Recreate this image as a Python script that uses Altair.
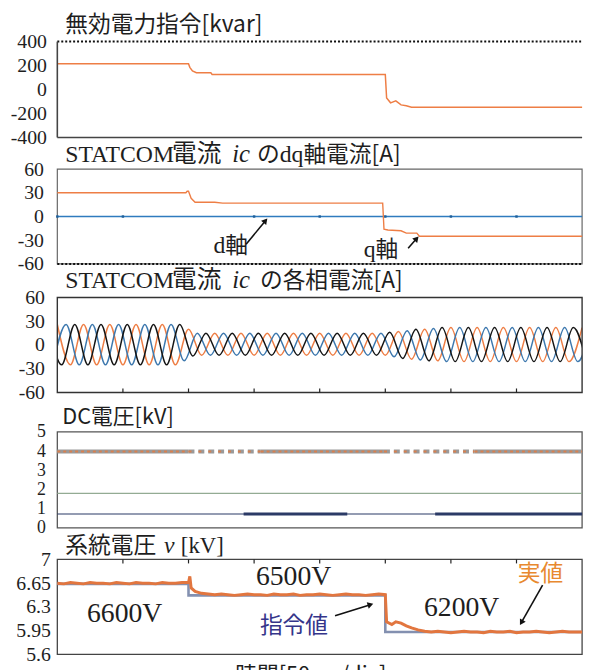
import altair as alt
import pandas as pd

# ---------------- data ----------------
# Panel 1: reactive power command [kvar]
r_t = [0, 100, 101, 103, 106, 117, 118, 250, 251, 254, 258, 262, 266, 270, 400]
r_v = [215, 215, 185, 155, 140, 140, 125, 125, -70, -111, -95, -128, -136, -148, -148]

# Panel 2: dq currents [A]
q_t = [0, 98, 99, 100, 102, 105, 120, 126, 248, 249, 252, 262, 266, 274, 276, 400]
q_v = [30, 30, 32, 32, 23, 18, 18, 17, 17, -16, -17, -18, -21, -21, -25, -25]
d_t = [0, 400]
d_v = [0, 0]
d_mark_t = [0, 50, 150, 200, 250, 300, 350]

# Panel 3: phase currents, extreme values per half cycle [A]
pa_t = [0, 10, 20, 30, 40, 50, 60, 70, 80, 90, 100, 110, 120, 130, 140, 150, 160, 170, 180, 190,
        200, 210, 220, 230, 240, 250, 260, 270, 280, 290, 300, 310, 320, 330, 340, 350, 360, 370,
        380, 390, 400]
pa_v = [26, -25, 26, -25, 26, -25, 26, -25, 26, -25,
        20, -13, 15, -13, 15, -13, 15, -13, 15, -13, 15, -13, 15, -13, 15, -13,
        17, -18, 20, -20, 22, -21, 22, -21, 22, -21, 22, -21, 22, -21, 22]
pb_t = [-3.3, 6.7, 16.7, 26.7, 36.7, 46.7, 56.7, 66.7, 76.7, 86.7, 96.7, 106.7, 116.7, 126.7,
        136.7, 146.7, 156.7, 166.7, 176.7, 186.7, 196.7, 206.7, 216.7, 226.7, 236.7, 246.7, 256.7,
        266.7, 276.7, 286.7, 296.7, 306.7, 316.7, 326.7, 336.7, 346.7, 356.7, 366.7, 376.7, 386.7,
        396.7, 406.7]
pb_v = [-25, 26, -25, 26, -25, 26, -25, 26, -25, 26,
        -20,
        15, -13, 15, -13, 15, -13, 15, -13, 15, -13, 15, -13, 15, -13, 15,
        -15, 18, -19, 21, -21, 22, -21, 22, -21, 22, -21, 22, -21, 22, -21, 22]
pc_t = [-6.7, 3.3, 13.3, 23.3, 33.3, 43.3, 53.3, 63.3, 73.3, 83.3, 93.3, 103.3, 113.3, 123.3,
        133.3, 143.3, 153.3, 163.3, 173.3, 183.3, 193.3, 203.3, 213.3, 223.3, 233.3, 243.3, 253.3,
        263.3, 273.3, 283.3, 293.3, 303.3, 313.3, 323.3, 333.3, 343.3, 353.3, 363.3, 373.3, 383.3,
        393.3, 403.3]
pc_v = [26, -25, 26, -25, 26, -25, 26, -25, 26, -25, 26,
        -14,
        15, -13, 15, -13, 15, -13, 15, -13, 15, -13, 15, -13, 15, -13,
        16, -17, 20, -20, 22, -21, 22, -21, 22, -21, 22, -21, 22, -21, 22, -21]

# Panel 4: DC voltages [kV]
dc_solid_start = [0, 155, 318]
dc_solid_end = [100, 249, 400]
dc_dash_start = [100, 249]
dc_dash_end = [155, 318]
dc_level = 3.98
green_level = 1.8
navy_thick_start = [142, 288]
navy_thick_end = [221, 400]
navy_level = 0.72

# Panel 5: system voltage [kV]
cmd_t = [0, 100, 100, 250, 250, 400]
cmd_v = [6.64, 6.64, 6.47, 6.47, 5.93, 5.93]
act_t = [0, 5, 10, 15, 20, 25, 30, 35, 40, 45, 50, 55, 60, 65, 70, 75, 80, 85, 90, 95,
         100, 101, 102, 105, 110, 115,
         120, 125, 130, 135, 140, 145, 150, 155, 160, 165, 170, 175, 180, 185, 190, 195, 200,
         205, 210, 215, 220, 225, 230, 235, 240, 245,
         250, 251, 255, 258, 262, 266, 270, 275, 280,
         285, 290, 295, 300, 305, 310, 315, 320, 325, 330, 335, 340, 345, 350, 355, 360, 365,
         370, 375, 380, 385, 390, 395, 400]
act_v = [6.65, 6.64, 6.66, 6.65, 6.64, 6.66, 6.65, 6.65, 6.64, 6.66, 6.65, 6.64, 6.66, 6.65,
         6.65, 6.64, 6.66, 6.65, 6.65, 6.66,
         6.66, 6.75, 6.58, 6.53, 6.50, 6.49,
         6.48, 6.49, 6.48, 6.47, 6.48, 6.49, 6.48, 6.48, 6.47, 6.49, 6.48, 6.48, 6.49, 6.47,
         6.48, 6.48, 6.49, 6.48, 6.47, 6.48, 6.49, 6.48, 6.48, 6.47, 6.48, 6.49,
         6.48, 6.08, 6.04, 6.08, 6.06, 6.02, 5.99, 5.96, 5.94,
         5.93, 5.94, 5.93, 5.92, 5.93, 5.94, 5.93, 5.93, 5.92, 5.94, 5.93, 5.93, 5.94, 5.92,
         5.93, 5.93, 5.94, 5.93, 5.92, 5.93, 5.94, 5.93, 5.93, 5.93]

tick_times = [50, 100, 150, 200, 250, 300, 350]

# ---------------- style ----------------
ORANGE = "#EE7E45"
BLUE = "#2F7BBE"
SERIF = "Liberation Serif"
SANS_CJK = "Noto Sans CJK JP"
W = 531
ONE = pd.DataFrame({"a": [0]})


def X(field="t"):
    return alt.X(f"{field}:Q", scale=alt.Scale(domain=[0, 400], nice=False, zero=False), axis=None)


def make_Y(dom, plot_h, ticks, pad, size=20):
    def Y(field="v"):
        sc = alt.Scale(domain=dom, range=[plot_h, 0], nice=False, zero=False)
        return alt.Y(f"{field}:Q", scale=sc, axis=alt.Axis(
            values=ticks, labelExpr="'' + datum.value", domain=False, ticks=False, grid=False,
            labelFont=SERIF, labelFontSize=size, labelColor="#1e1e1e", labelPadding=pad,
            labelOverlap=False, labelFlush=False, title=None))
    return Y


def text(s, x, y, font=SANS_CJK, size=22, color="#1e1e1e", style="normal"):
    return alt.Chart(ONE).mark_text(text=s, font=font, fontSize=size, color=color,
                                    fontStyle=style, align="left", baseline="alphabetic").encode(
        x=alt.value(x), y=alt.value(y))


def dtext(s, t, v, Y, font=SANS_CJK, size=22, color="#1e1e1e"):
    df = pd.DataFrame({"t": [t], "v": [v]})
    return alt.Chart(df).mark_text(text=s, font=font, fontSize=size, color=color,
                                   align="left", baseline="alphabetic").encode(x=X(), y=Y())


def arrow(t1, v1, t2, v2, ang, Y):
    df = pd.DataFrame({"t": [t1, t2], "v": [v1, v2]})
    line = alt.Chart(df).mark_line(color="#111", strokeWidth=1.6).encode(x=X(), y=Y())
    dh = pd.DataFrame({"t": [t2], "v": [v2]})
    head = alt.Chart(dh).mark_point(shape="triangle", filled=True, size=45, color="#111",
                                    opacity=1, angle=ang).encode(x=X(), y=Y())
    return [line, head]


def frame(dom, Y, color="#555", width=1.2):
    df = pd.DataFrame({"t": [0], "t2": [400], "v": [dom[1]], "v2": [dom[0]]})
    return alt.Chart(df).mark_rect(filled=False, stroke=color, strokeWidth=width).encode(
        x=X(), x2="t2:Q", y=Y(), y2="v2:Q")


def hline(val, Y, color, width=1.5, dash=None):
    df = pd.DataFrame({"t": [0, 400], "v": [val, val]})
    kw = dict(color=color, strokeWidth=width)
    if dash is not None:
        kw["strokeDash"] = dash
    return alt.Chart(df).mark_line(**kw).encode(x=X(), y=Y())


def segs(starts, ends, level):
    rows = []
    for i, (s, e) in enumerate(zip(starts, ends)):
        rows.append({"seg": i, "t": s, "v": level})
        rows.append({"seg": i, "t": e, "v": level})
    return pd.DataFrame(rows)


def cjk_title(pieces, y):
    out = []
    for s, x, font, size, style in pieces:
        out.append(text(s, x, y, font, size, style=style))
    return out


# ---------------- panel 1 ----------------
D1, H1 = [-400, 400], 97
Y1 = make_Y(D1, H1, [400, 200, 0, -200, -400], 11)
df1 = pd.DataFrame({"t": r_t, "v": r_v})
dleft = pd.DataFrame({"t": [0, 0], "v": [-400, 400]})
p1_layers = [
    alt.Chart(df1).mark_line(color=ORANGE, strokeWidth=1.5).encode(x=X(), y=Y1()),
    hline(-400, Y1, "#444", 1.6),
    hline(400, Y1, "#111", 2, [2, 2]),
    alt.Chart(dleft).mark_line(color="#444", strokeWidth=1.6).encode(x=X(), y=Y1()),
    text("無効電力指令[kvar]", 8, -10, SANS_CJK, 23),
]
p1 = alt.layer(*p1_layers).properties(width=W, height=H1)

# ---------------- panel 2 ----------------
D2, H2p, H2c = [-60, 60], 96, 98
Y2 = make_Y(D2, H2p, [60, 30, 0, -30, -60], 14)
dfq = pd.DataFrame({"t": q_t, "v": q_v})
dfd = pd.DataFrame({"t": d_t, "v": d_v})
dfdm = pd.DataFrame({"t": d_mark_t, "v": [0] * len(d_mark_t)})
p2_layers = [
    frame(D2, Y2, "#666", 1.2),
    alt.Chart(dfd).mark_line(color=BLUE, strokeWidth=1.6).encode(x=X(), y=Y2()),
    alt.Chart(dfdm).mark_square(color="#1F5F99", size=6, opacity=1).encode(x=X(), y=Y2()),
    alt.Chart(dfq).mark_line(color=ORANGE, strokeWidth=1.4).encode(x=X(), y=Y2()),
    hline(-60, Y2, "#111", 2, [2, 2]),
    dtext("d", 119, -46.25, Y2, SERIF, 24),
    dtext("軸", 128, -46.25, Y2, SANS_CJK, 23),
    dtext("q", 233.5, -51.25, Y2, SERIF, 24),
    dtext("軸", 242.5, -51.25, Y2, SANS_CJK, 23),
] + cjk_title([
    ("STATCOM", 8, SERIF, 24, "normal"),
    ("電流", 116, SANS_CJK, 25, "normal"),
    ("ic", 177, SERIF, 25, "italic"),
    ("の", 202, SANS_CJK, 23, "normal"),
    ("dq", 225, SERIF, 24, "normal"),
    ("軸電流[A]", 249, SANS_CJK, 23, "normal"),
], -7) + arrow(143.9, -35, 158.2, -6.25, 40, Y2) + arrow(267.4, -40, 273.4, -28.75, 42, Y2)
p2 = alt.layer(*p2_layers).properties(width=W, height=H2c)

# ---------------- panel 3 ----------------
D3, H3p, H3c = [-60, 60], 96, 104
Y3 = make_Y(D3, H3p, [60, 30, 0, -30, -60], 13)
rows = []
for name, ts, vs in (("a", pa_t, pa_v), ("b", pb_t, pb_v), ("c", pc_t, pc_v)):
    for t, v in zip(ts, vs):
        rows.append({"phase": name, "t": t, "v": v})
df3 = pd.DataFrame(rows)
dft = pd.DataFrame({"t": tick_times})
p3_layers = [
    alt.Chart(df3).mark_line(strokeWidth=1.5, interpolate="monotone", clip=True).encode(
        x=X(), y=Y3(),
        color=alt.Color("phase:N", scale=alt.Scale(domain=["a", "b", "c"],
                                                   range=[ORANGE, "#3D78AE", "#151515"]),
                        legend=None)),
    frame(D3, Y3, "#333", 1.4),
    alt.Chart(dft).mark_rule(color="#222", strokeWidth=1.2).encode(
        x=X(), y=alt.value(H3p), y2=alt.value(H3p - 4)),
] + cjk_title([
    ("STATCOM", 8, SERIF, 24, "normal"),
    ("電流", 116, SANS_CJK, 25, "normal"),
    ("ic", 177, SERIF, 25, "italic"),
    ("の各相電流[A]", 205, SANS_CJK, 23, "normal"),
], -10)
p3 = alt.layer(*p3_layers).properties(width=W, height=H3c)

# ---------------- panel 4 ----------------
D4, H4 = [0, 5], 97
Y4 = make_Y(D4, H4, [5, 4, 3, 2, 1, 0], 12, 18)
df_solid = segs(dc_solid_start, dc_solid_end, dc_level)
df_dash = segs(dc_dash_start, dc_dash_end, dc_level)
df_navy_thick = segs(navy_thick_start, navy_thick_end, navy_level)
p4_layers = [
    frame(D4, Y4, "#555", 1.3),
    hline(green_level, Y4, "#93AB93", 1.4),
    hline(navy_level, Y4, "#2B3A66", 1.2),
    alt.Chart(df_navy_thick).mark_line(color="#2B3A66", strokeWidth=3).encode(
        x=X(), y=Y4(), detail="seg:N"),
    alt.Chart(df_solid).mark_line(color="#9A9A9A", strokeWidth=4).encode(
        x=X(), y=Y4(), detail="seg:N"),
    alt.Chart(df_solid).mark_line(color="#D9804F", strokeWidth=2.2, strokeDash=[3, 3]).encode(
        x=X(), y=Y4(), detail="seg:N"),
    alt.Chart(df_dash).mark_line(color="#9A9A9A", strokeWidth=4, strokeDash=[6, 4]).encode(
        x=X(), y=Y4(), detail="seg:N"),
    alt.Chart(df_dash).mark_line(color="#D9804F", strokeWidth=2.2, strokeDash=[3, 7]).encode(
        x=X(), y=Y4(), detail="seg:N"),
    text("DC電圧[kV]", 5, -8, SANS_CJK, 22),
]
p4 = alt.layer(*p4_layers).properties(width=W, height=H4)

# ---------------- panel 5 ----------------
D5, H5 = [5.6, 7], 96
Y5 = make_Y(D5, H5, [7, 6.65, 6.3, 5.95, 5.6], 7)
dfc = pd.DataFrame({"t": cmd_t, "v": cmd_v})
dfa = pd.DataFrame({"t": act_t, "v": act_v})
p5_layers = [
    frame(D5, Y5, "#444", 1.3),
    alt.Chart(dfc).mark_line(color="#8390B0", strokeWidth=2.6).encode(x=X(), y=Y5()),
    alt.Chart(dfa).mark_line(color="#E2763F", strokeWidth=3).encode(x=X(), y=Y5()),
    alt.Chart(dft).mark_rule(color="#222", strokeWidth=1.2).encode(
        x=X(), y=alt.value(0), y2=alt.value(4)),
    dtext("6600V", 22.6, 6.07, Y5, SERIF, 28),
    dtext("6500V", 151.4, 6.63, Y5, SERIF, 28),
    dtext("6200V", 279.5, 6.16, Y5, SERIF, 28),
    dtext("指令値", 154.4, 5.91, Y5, SANS_CJK, 23, "#35358A"),
    dtext("実値", 351, 6.68, Y5, SANS_CJK, 23, "#E8892F"),
    text("系統電圧", 8, -7, SANS_CJK, 23),
    text("v", 108, -7, SERIF, 24, style="italic"),
    text("[kV]", 125, -7, SERIF, 23),
    text("時間[50ms/div]", 180, 124, SANS_CJK, 22),
] + arrow(211.7, 6.169, 238.0, 6.329, 73, Y5) + arrow(369.9, 6.621, 354.1, 6.081, 210, Y5)
p5 = alt.layer(*p5_layers).properties(width=W, height=H5)

chart = alt.vconcat(p1, p2, p3, p4, p5).properties(
    spacing=32, bounds="flush",
    padding={"left": 10, "top": 10, "right": 0, "bottom": 0},
).configure_view(stroke=None)

chart.save("out.html", embed_options={"renderer": "svg", "actions": False})
